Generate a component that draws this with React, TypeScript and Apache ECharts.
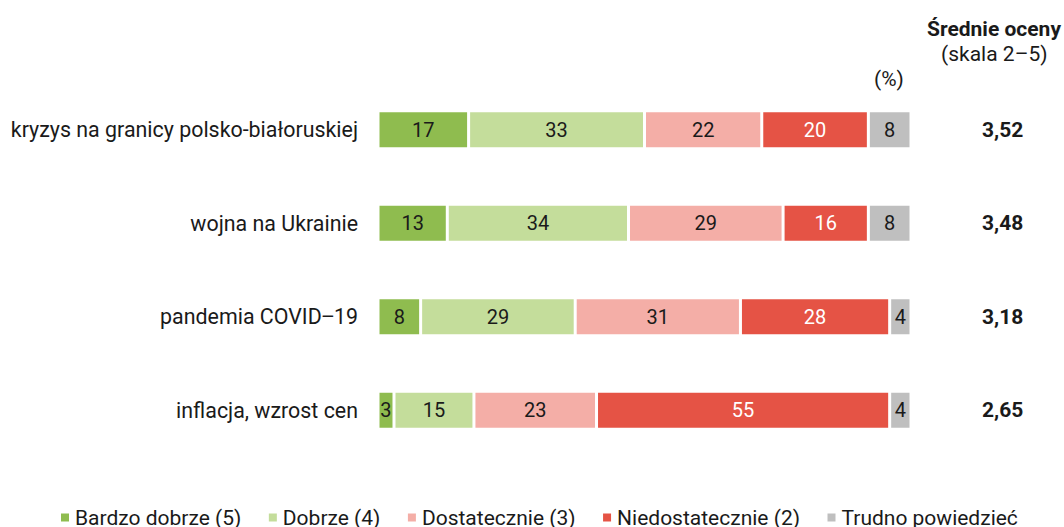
import React, { useEffect, useRef } from "react";
import * as echarts from "echarts";

const categories = [
  "kryzys na granicy polsko-białoruskiej",
  "wojna na Ukrainie",
  "pandemia COVID\u201219",
  "inflacja, wzrost cen",
];
const averages = ["3,52", "3,48", "3,18", "2,65"];
const seriesNames = [
  "Bardzo dobrze (5)",
  "Dobrze (4)",
  "Dostatecznie (3)",
  "Niedostatecznie (2)",
  "Trudno powiedzieć",
];
const bardzoDobrze = [17, 13, 8, 3];
const dobrze = [33, 34, 29, 15];
const dostatecznie = [22, 29, 31, 23];
const niedostatecznie = [20, 16, 28, 55];
const trudno = [8, 8, 4, 4];
const colors = ["#8fbc4f", "#c4dd9b", "#f4aea7", "#e55345", "#bfbfbf"];
const labelColors = ["#1a1a1a", "#1a1a1a", "#1a1a1a", "#ffffff", "#1a1a1a"];

const FONT = "Roboto, 'Noto Sans', sans-serif";

export default function App() {
  const ref = useRef<HTMLDivElement>(null);
  useEffect(() => {
    if (!ref.current) return;
    const chart = echarts.init(ref.current, null, { renderer: "svg" });
    const values = [bardzoDobrze, dobrze, dostatecznie, niedostatecznie, trudno];
    chart.setOption({
      animation: false,
      textStyle: { fontFamily: FONT },
      grid: { left: 378, right: 153, top: 83, bottom: 70 },
      legend: {
        left: 54,
        top: 502,
        icon: "rect",
        itemWidth: 10,
        itemHeight: 10,
        itemGap: 25.5,
        textStyle: { fontSize: 21, color: "#1a1a1a", fontFamily: FONT },
        data: seriesNames,
      },
      xAxis: {
        type: "value",
        min: 0,
        max: 100,
        show: false,
      },
      yAxis: [
        {
          type: "category",
          data: categories,
          inverse: true,
          axisLine: { show: false },
          axisTick: { show: false },
          axisLabel: { fontSize: 21.4, color: "#1a1a1a", margin: 20, fontFamily: FONT },
        },
        {
          type: "category",
          data: averages,
          inverse: true,
          position: "right",
          axisLine: { show: false },
          axisTick: { show: false },
          axisLabel: {
            fontSize: 21,
            fontWeight: "bold",
            color: "#1a1a1a",
            margin: 71,
            fontFamily: FONT,
          },
        },
      ],
      graphic: [
        {
          type: "text",
          left: 927,
          top: 18,
          style: { text: "Średnie oceny", font: `bold 21px ${FONT}`, fill: "#1a1a1a" },
        },
        {
          type: "text",
          left: 941,
          top: 43,
          style: { text: "(skala 2\u20135)", font: `21px ${FONT}`, fill: "#1a1a1a" },
        },
        {
          type: "text",
          left: 874,
          top: 68,
          style: { text: "(%)", font: `21px ${FONT}`, fill: "#1a1a1a" },
        },
      ],
      series: seriesNames.map((name, i) => ({
        name,
        type: "bar",
        stack: "total",
        barWidth: 38,
        data: values[i],
        itemStyle: { color: colors[i], borderColor: "#ffffff", borderWidth: 1.5 },
        label: {
          show: true,
          position: "inside",
          fontSize: 20,
          color: labelColors[i],
          fontFamily: FONT,
        },
        emphasis: { disabled: true },
      })),
    });
    return () => chart.dispose();
  }, []);
  return <div ref={ref} style={{ width: 1064, height: 527, position: "absolute", left: 0, top: 0 }} />;
}
